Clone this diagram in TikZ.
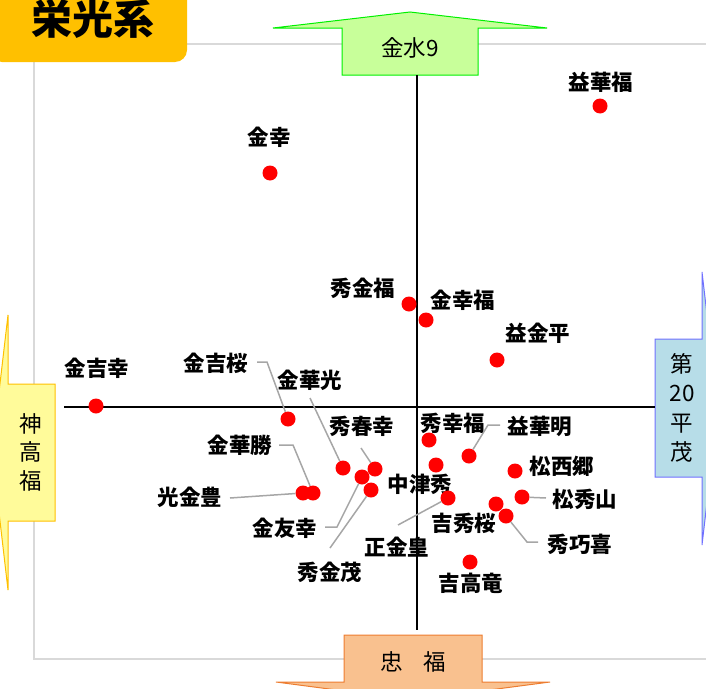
\documentclass[tikz,border=0pt]{standalone}
\usepackage{fontspec}
\setmainfont{Noto Sans CJK JP}
\usetikzlibrary{calc}
\definecolor{dotred}{HTML}{FF0000}
\definecolor{framegray}{HTML}{D9D9D9}
\definecolor{leadergray}{HTML}{A6A6A6}
\definecolor{titleorange}{HTML}{FFC000}
\definecolor{greenfill}{HTML}{C8FF9A}
\definecolor{greenline}{HTML}{00F000}
\definecolor{orangefill}{HTML}{F9C18F}
\definecolor{orangeline}{HTML}{ED7D31}
\definecolor{yellowfill}{HTML}{FFFB9A}
\definecolor{yellowline}{HTML}{FFC000}
\definecolor{bluefill}{HTML}{B7DDE8}
\definecolor{blueline}{HTML}{7070FF}
\tikzset{
  dot/.style={circle, fill=dotred, inner sep=0pt, minimum size=15pt},
  lbl/.style={font=\fontsize{21.5}{25}\selectfont\bfseries, inner sep=0pt},
  axlbl/.style={font=\fontsize{22.5}{29.5}\selectfont, inner sep=0pt, align=center},
  leader/.style={draw=leadergray, line width=1.5pt},
  axisline/.style={draw=black, line width=2pt},
  frameline/.style={draw=framegray, line width=2pt},
}
\begin{document}
\begin{tikzpicture}[x=1pt,y=-1pt]
\useasboundingbox (0,0) rectangle (706,688);
% frame
\draw[frameline] (720,44) -- (34,44) -- (34,659) -- (720,659);
% title
\fill[titleorange, rounded corners=12pt] (-10,-30) rectangle (187,62);
\node[font=\fontsize{41}{45}\selectfont\bfseries, inner sep=0pt] (title) at (93,19) {栄光系};
% top arrow (green)
\draw[fill=greenfill, draw=greenline, line width=1pt, line join=miter]
  (342,75) -- (342,28) -- (273,28) -- (410,12) -- (547,28) -- (478,28) -- (478,75) -- cycle;
\node[axlbl] (up) at (410,48) {金水9};
% bottom arrow (orange)
\draw[fill=orangefill, draw=orangeline, line width=1pt]
  (344,682) -- (344,635) -- (482,635) -- (482,682) -- (550,682) -- (413,700) -- (276,682) -- cycle;
\node[axlbl] (down) at (413,662) {忠\hspace{0.9em}福};
% left arrow (yellow)
\draw[fill=yellowfill, draw=yellowline, line width=1pt]
  (55,384) -- (8,384) -- (8,315) -- (-8,452) -- (8,590) -- (8,521) -- (55,521) -- cycle;
\node[axlbl, font=\fontsize{22.5}{28.5}\selectfont] (left) at (31,452) {神\\高\\福};
% right arrow (blue)
\draw[fill=bluefill, draw=blueline, line width=1pt]
  (702,339) -- (655,339) -- (655,477) -- (702,477) -- (702,545) -- (718,408) -- (702,272) -- cycle;
\node[axlbl] (right) at (682,408) {第\\20\\平\\茂};
% axes
\coordinate (vtop) at (417,75);
\coordinate (vbot) at (417,630);
\coordinate (hleft) at (64,407);
\coordinate (hright) at (655,407);
\draw[axisline] (vtop) -- (vbot);
\draw[axisline] (hleft) -- (hright);
% labels
\node[lbl] (l1) at (601,82) {益華福};
\node[lbl] (l2) at (269,137) {金幸};
\node[lbl] (l3) at (363,288) {秀金福};
\node[lbl] (l4) at (463,300) {金幸福};
\node[lbl] (l5) at (538,333) {益金平};
\node[lbl] (l6) at (97,368) {金吉幸};
\node[lbl] (l7) at (216,363) {金吉桜};
\node[lbl] (l8) at (310,380) {金華光};
\node[lbl] (l9) at (362,426) {秀春幸};
\node[lbl] (l10) at (240,445) {金華勝};
\node[lbl] (l11) at (190,497) {光金豊};
\node[lbl] (l12) at (285,528) {金友幸};
\node[lbl] (l13) at (330,572) {秀金茂};
\node[lbl] (l14) at (420,484) {中津秀};
\node[lbl] (l15) at (397,547) {正金皇};
\node[lbl] (l16) at (453,423) {秀幸福};
\node[lbl] (l17) at (540,426) {益華明};
\node[lbl] (l18) at (562,466) {松西郷};
\node[lbl] (l19) at (585,499) {松秀山};
\node[lbl] (l20) at (464,523) {吉秀桜};
\node[lbl] (l21) at (580,544) {秀巧喜};
\node[lbl] (l22) at (471,583) {吉高竜};
% dots
\node[dot] (d1) at (600,106) {};
\node[dot] (d2) at (270,173) {};
\node[dot] (d3) at (409,304) {};
\node[dot] (d4) at (426,320) {};
\node[dot] (d5) at (497,360) {};
\node[dot] (d6) at (96,406) {};
\node[dot] (d7) at (288,419) {};
\node[dot] (d8) at (343,468) {};
\node[dot] (d9) at (375,469) {};
\node[dot] (d10) at (313,493) {};
\node[dot] (d11) at (303,493) {};
\node[dot] (d12) at (362,477) {};
\node[dot] (d13) at (371,490) {};
\node[dot] (d14) at (436,465) {};
\node[dot] (d15) at (448,498) {};
\node[dot] (d16) at (429,440) {};
\node[dot] (d17) at (469,456) {};
\node[dot] (d18) at (515,471) {};
\node[dot] (d19) at (522,497) {};
\node[dot] (d20) at (496,504) {};
\node[dot] (d21) at (506,516) {};
\node[dot] (d22) at (470,562) {};
% leaders
\coordinate (k7) at (257,362);
\coordinate (k8) at (310,398);
\coordinate (k9) at (361,448);
\coordinate (k10) at (279,445);
\coordinate (k11) at (230,498);
\coordinate (k12) at (325,527);
\coordinate (k13) at (330,548);
\coordinate (k15) at (398,525);
\coordinate (k17) at (500,425);
\coordinate (k19) at (546,498);
\coordinate (k21) at (538,542);
\draw[leader] (k7) -- ++(10,0) -- (d7);
\draw[leader] (k8) -- (d8);
\draw[leader] (k9) -- (d9);
\draw[leader] (k10) -- ++(14,0) -- (d10);
\draw[leader] (k11) -- (d11);
\draw[leader] (k12) -- ++(12,0) -- (d12);
\draw[leader] (k13) -- (d13);
\draw[leader] (k15) -- (d15);
\draw[leader] (k17) -- ++(-12,0) -- (d17);
\draw[leader] (k19) -- (d19);
\draw[leader] (k21) -- ++(-11,0) -- (d21);
\end{tikzpicture}
\end{document}
